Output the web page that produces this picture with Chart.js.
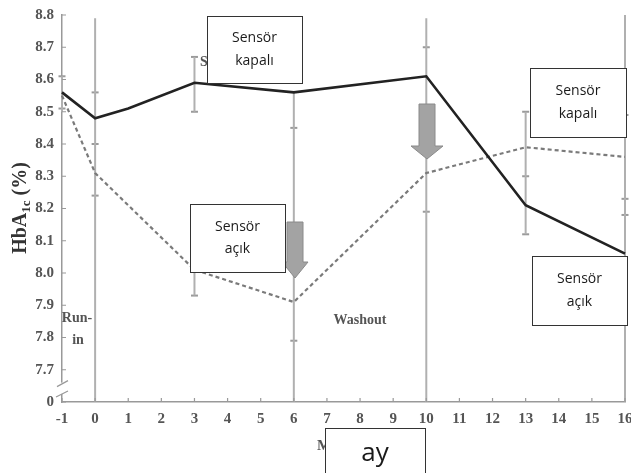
<!DOCTYPE html>
<html><head><meta charset="utf-8">
<script src="https://cdn.jsdelivr.net/npm/chart.js@4/dist/chart.umd.min.js"></script>
<style>html,body{margin:0;padding:0;background:#fff;}#wrap{width:631px;height:473px;position:relative;}</style>
</head><body><div id="wrap"><canvas id="c" width="631" height="473"></canvas></div>
<script>
// ---- data ----
const sensorOnMonths = [-1, 0, 1, 3, 6, 10, 13, 16];
const sensorOnValues = [8.56, 8.48, 8.51, 8.59, 8.56, 8.61, 8.21, 8.06];
const sensorOffMonths = [-1, 0, 3, 6, 10, 13, 16];
const sensorOffValues = [8.55, 8.31, 8.01, 7.91, 8.31, 8.39, 8.36];
const errX    = [-1, 0, 3, 3, 6, 10, 13, 16];
const errLow  = [8.50, 7.6, 8.50, 7.93, 7.6, 7.6, 8.12, 7.6];
const errHigh = [8.61, 8.79, 8.67, 8.01, 8.56, 8.79, 8.50, 8.80];
const capX = [-1, -1, 0, 0, 0, 3, 3, 3, 6, 6, 10, 10, 13, 13, 13, 16, 16, 16];
const capY = [8.61, 8.51, 8.56, 8.40, 8.24, 8.67, 8.50, 7.93, 8.45, 7.79, 8.70, 8.19, 8.50, 8.30, 8.12, 8.49, 8.23, 8.18];
const xTicks = [-1,0,1,2,3,4,5,6,7,8,9,10,11,12,13,14,15,16];
const yTicks = [7.6,7.7,7.8,7.9,8.0,8.1,8.2,8.3,8.4,8.5,8.6,8.7,8.8];
const yTickLabels = ['0','7.7','7.8','7.9','8.0','8.1','8.2','8.3','8.4','8.5','8.6','8.7','8.8'];

const errData = [];
errX.forEach((x, i) => { errData.push({x, y: errLow[i]}, {x, y: errHigh[i]}, {x, y: null}); });

const serif = '"Liberation Serif", "DejaVu Serif", serif';
const sans = '"Open Sans", "Liberation Sans", sans-serif';

const overlay = {
  id: 'overlay',
  afterDraw(chart) {
    const ctx = chart.ctx;
    const xs = chart.scales.x, ys = chart.scales.y;
    const area = chart.chartArea;
    ctx.save();
    // inner tick marks
    ctx.strokeStyle = '#999'; ctx.lineWidth = 1.2;
    ctx.beginPath();
    xTicks.forEach(v => { const px = xs.getPixelForValue(v); ctx.moveTo(px, area.bottom); ctx.lineTo(px, area.bottom - 4); });
    yTicks.forEach(v => { const py = ys.getPixelForValue(v); ctx.moveTo(area.left, py); ctx.lineTo(area.left + 4, py); });
    ctx.stroke();
    // axis break
    const bx = xs.getPixelForValue(-1);
    const yb1 = ys.getPixelForValue(7.66), yb2 = ys.getPixelForValue(7.625);
    ctx.fillStyle = '#fff';
    ctx.fillRect(bx - 3, yb1, 6, yb2 - yb1);
    ctx.strokeStyle = '#999'; ctx.lineWidth = 1.2;
    ctx.beginPath();
    ctx.moveTo(bx - 5, yb1 + 4); ctx.lineTo(bx + 6, yb1 - 2);
    ctx.moveTo(bx - 6, yb2 + 3); ctx.lineTo(bx + 6, yb2 - 3);
    ctx.stroke();

    // y title with subscript
    ctx.fillStyle = '#333';
    ctx.translate(21, 208);
    ctx.rotate(-Math.PI / 2);
    ctx.textBaseline = 'middle';
    ctx.textAlign = 'left';
    const big = 'bold 20px ' + serif, small = 'bold 13px ' + serif;
    ctx.font = big;
    const p1 = 'HbA', p3 = ' (%)';
    const w1 = ctx.measureText(p1).width, w3 = ctx.measureText(p3).width;
    ctx.font = small;
    const w2 = ctx.measureText('1c').width;
    let sx = -(w1 + w2 + w3) / 2;
    ctx.font = big; ctx.fillText(p1, sx, 0);
    ctx.font = small; ctx.fillText('1c', sx + w1, 6);
    ctx.font = big; ctx.fillText(p3, sx + w1 + w2, 0);
    ctx.setTransform(1, 0, 0, 1, 0, 0);

    // phase labels
    ctx.font = 'bold 14px ' + serif;
    ctx.fillStyle = '#555';
    ctx.textAlign = 'center'; ctx.textBaseline = 'middle';
    ctx.fillText('Run-', 77, 318);
    ctx.fillText('in', 78, 340);
    ctx.fillText('Washout', 360, 320);
    ctx.textAlign = 'left';
    ctx.fillText('Sensor off', 200, 62);
    ctx.font = 'bold 15px ' + serif;
    ctx.fillText('Months', 317, 446);

    // arrows
    function arrow(cx, top, shaftBottom, tip, sw, hw) {
      ctx.beginPath();
      ctx.moveTo(cx - sw, top); ctx.lineTo(cx + sw, top); ctx.lineTo(cx + sw, shaftBottom);
      ctx.lineTo(cx + hw, shaftBottom); ctx.lineTo(cx, tip); ctx.lineTo(cx - hw, shaftBottom);
      ctx.lineTo(cx - sw, shaftBottom); ctx.closePath();
      ctx.fillStyle = '#a3a3a3'; ctx.fill();
      ctx.strokeStyle = '#8a8a8a'; ctx.lineWidth = 1; ctx.stroke();
    }
    arrow(295, 222, 262, 278, 8, 13);
    arrow(427, 104, 146, 159, 8, 16);

    // text boxes
    function box(x, y, w, h, lines, fs) {
      ctx.fillStyle = '#fff';
      ctx.fillRect(x, y, w, h);
      ctx.strokeStyle = '#333'; ctx.lineWidth = 1;
      ctx.strokeRect(x + 0.5, y + 0.5, w, h);
      ctx.fillStyle = '#1a1a1a';
      ctx.font = fs + 'px ' + sans;
      ctx.textAlign = 'center'; ctx.textBaseline = 'middle';
      const lh = fs * 1.6;
      const y0 = y + h / 2 - (lines.length - 1) * lh / 2;
      lines.forEach((t, i) => ctx.fillText(t, x + w / 2, y0 + i * lh));
    }
    box(207, 16, 95, 67, ['Sensör', 'kapalı'], 14);
    box(530, 68, 96, 69, ['Sensör', 'kapalı'], 14);
    box(190, 204, 95, 68, ['Sensör', 'açık'], 14);
    box(532, 256, 95, 69, ['Sensör', 'açık'], 14);
    box(325, 428, 100, 60, [''], 24);
    ctx.fillStyle = '#1a1a1a';
    ctx.font = '26px ' + sans;
    ctx.textAlign = 'center'; ctx.textBaseline = 'middle';
    ctx.fillText('ay', 375, 454);
    ctx.restore();
  }
};

new Chart(document.getElementById('c'), {
  type: 'line',
  data: {
    datasets: [
      {
        label: 'Sensör kapalı',
        data: sensorOnMonths.map((x, i) => ({x, y: sensorOnValues[i]})),
        borderColor: '#222', borderWidth: 2.6, pointRadius: 0, tension: 0, order: 1, clip: false
      },
      {
        label: 'Sensör açık',
        data: sensorOffMonths.map((x, i) => ({x, y: sensorOffValues[i]})),
        borderColor: '#7a7a7a', borderWidth: 2.2, borderDash: [4, 3], pointRadius: 0, tension: 0, order: 2, clip: false
      },
      {
        label: 'err',
        data: errData,
        borderColor: '#b0b0b0', borderWidth: 2, pointRadius: 0, spanGaps: false, order: 3, clip: false
      },
      {
        label: 'caps',
        type: 'scatter',
        data: capX.map((x, i) => ({x, y: capY[i]})),
        pointStyle: 'line', pointRadius: 3.5, borderColor: '#9a9a9a', borderWidth: 2, order: 3, clip: false
      }
    ]
  },
  options: {
    responsive: false,
    animation: false,
    events: [],
    layout: { padding: { top: 15, right: 5, left: 0, bottom: 0 } },
    plugins: { legend: { display: false }, tooltip: { enabled: false } },
    scales: {
      x: {
        type: 'linear', min: -1, max: 16,
        afterBuildTicks: s => { s.ticks = xTicks.map(v => ({value: v})); },
        afterFit: s => { s.height = 71; s.paddingRight = 0; s.paddingLeft = 0; },
        grid: { drawOnChartArea: false, display: false, tickLength: 0 },
        border: { color: '#999', width: 1.5 },
        ticks: { color: '#555', font: { family: serif, size: 15, weight: 'bold' }, padding: 8, maxRotation: 0, autoSkip: false,
                 callback: v => String(v) }
      },
      y: {
        type: 'linear', min: 7.6, max: 8.8,
        afterBuildTicks: s => { s.ticks = yTicks.map(v => ({value: v})); },
        afterFit: s => { s.width = 62; s.paddingTop = 0; s.paddingBottom = 0; },
        grid: { drawOnChartArea: false, display: false, tickLength: 0 },
        border: { color: '#999', width: 1.5 },
        ticks: { color: '#555', font: { family: serif, size: 15, weight: 'bold' }, padding: 8, autoSkip: false,
                 callback: (v) => { const i = yTicks.findIndex(t => Math.abs(t - v) < 1e-6); return i >= 0 ? yTickLabels[i] : ''; } }
      }
    }
  },
  plugins: [overlay]
});
</script></body></html>
